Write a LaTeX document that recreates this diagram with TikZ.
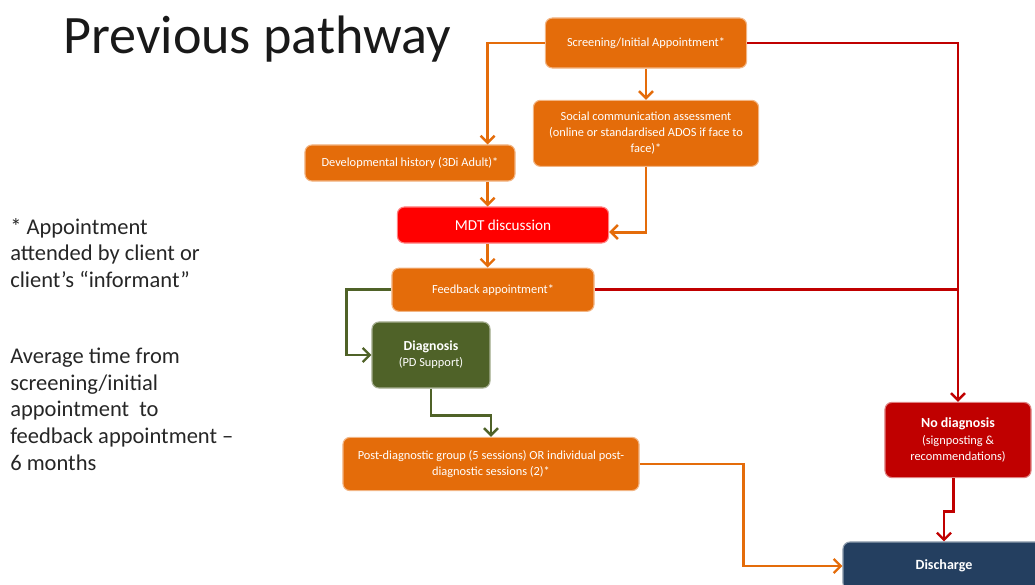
\documentclass[tikz,border=0pt]{standalone}
\usepackage{fontspec}
\setmainfont{Carlito}
\usepackage{xcolor}
\usetikzlibrary{arrows.meta,positioning,calc}

\definecolor{pwOrange}{HTML}{E46C0A}
\definecolor{pwRed}{HTML}{FF0000}
\definecolor{pwDarkRed}{HTML}{C00000}
\definecolor{pwGreen}{HTML}{4F6228}
\definecolor{pwNavy}{HTML}{243F60}

\newcommand{\pwsmall}{\fontsize{8.8}{11.4}\selectfont}
\newcommand{\pwnote}{\fontsize{16}{18.9}\selectfont}

\begin{document}
\begin{tikzpicture}[
    x=0.025cm, y=-0.025cm,
    box/.style={
        rectangle, rounded corners=5pt, draw=#1!50!white, line width=0.8pt,
        fill=#1, text=white, align=center, inner sep=2pt, font=\pwsmall
    },
    arr/.style={-{Straight Barb[length=5pt, width=10pt, line width=1.7pt]}, line width=2.1pt, draw=#1},
    link/.style={line width=2.1pt, draw=#1},
    note/.style={align=left, inner sep=0pt, font=\pwnote, text=black!85},
]
\useasboundingbox (0,0) rectangle (1035,585);

% Title and notes
\node[anchor=base west, inner sep=0pt, font=\fontsize{38.5}{44}\selectfont, text=black!90] (title) at (63,53) {Previous pathway};
\node[note, anchor=north west] (attend) at (10,218) {* Appointment\\attended by client or\\client’s “informant”};
\node[note, anchor=north west] (avgtime) at (10,348) {Average time from\\screening/initial\\appointment\ \ to\\feedback appointment –\\6 months};

% Assessment
\node[box=pwOrange, minimum width=5.03cm, minimum height=1.25cm] (screen) at (646,43) {Screening/Initial Appointment*};
\node[box=pwOrange, minimum width=5.63cm, minimum height=1.65cm, below=0.78cm of screen] (social) {Social communication assessment\\(online or standardised ADOS if face to\\face)*};
\node[box=pwOrange, minimum width=5.25cm, minimum height=0.9cm] (devhist) at (410,163) {Developmental history (3Di Adult)*};
\node[box=pwRed, minimum width=5.28cm, minimum height=0.9cm, font=\fontsize{10.8}{13}\selectfont] (mdt) at (503,225) {MDT discussion};
\node[box=pwOrange, minimum width=5.05cm, minimum height=1.08cm, below=0.6cm of mdt, xshift=-0.25cm] (feedback) {Feedback appointment*};

% Outcomes
\node[box=pwGreen, minimum width=2.95cm, minimum height=1.65cm] (diag) at (431,355) {{\fontsize{9.8}{12}\selectfont\bfseries Diagnosis}\\(PD Support)};
\node[box=pwOrange, minimum width=7.4cm, minimum height=1.33cm] (postdiag) at (491,464) {Post-diagnostic group (5 sessions) OR individual post-\\diagnostic sessions (2)*};
\node[box=pwDarkRed, minimum width=3.65cm, minimum height=1.88cm] (nodiag) at (958,440) {{\fontsize{9.9}{12}\selectfont\bfseries No diagnosis}\\(signposting \&\\recommendations)};
\node[box=pwNavy, minimum width=5.05cm, minimum height=1.2cm, font=\fontsize{10}{12}\selectfont\bfseries] (discharge) at (944,566) {Discharge};

% Arrows
\draw[arr=pwOrange] (screen.west) -| ($(devhist.north east)+(-28,0)$);
\draw[arr=pwOrange] (screen.south) -- (social.north);
\draw[arr=pwDarkRed] (screen.east) -| (nodiag.north);
\draw[arr=pwOrange] ($(devhist.south east)+(-28,0)$) coordinate (dvout) -- (dvout |- mdt.north);
\draw[arr=pwOrange] (social.south) |- ([yshift=-5]mdt.east);
\draw[arr=pwOrange] (mdt.south -| dvout) -- (feedback.north -| dvout);
\draw[arr=pwGreen] (feedback.west) -- ++(-45,0) |- (diag.west);
\draw[link=pwDarkRed] (feedback.east) -- (feedback.east -| nodiag.north);
\draw[arr=pwGreen] (diag.south) -- ++(0,27) -| (postdiag.north);
\draw[arr=pwOrange] (postdiag.east) -- ++(104,0) |- (discharge.west);
\draw[arr=pwDarkRed] ([xshift=-0.12cm]nodiag.south) -- ++(0,33) -| (discharge.north);
\end{tikzpicture}
\end{document}
